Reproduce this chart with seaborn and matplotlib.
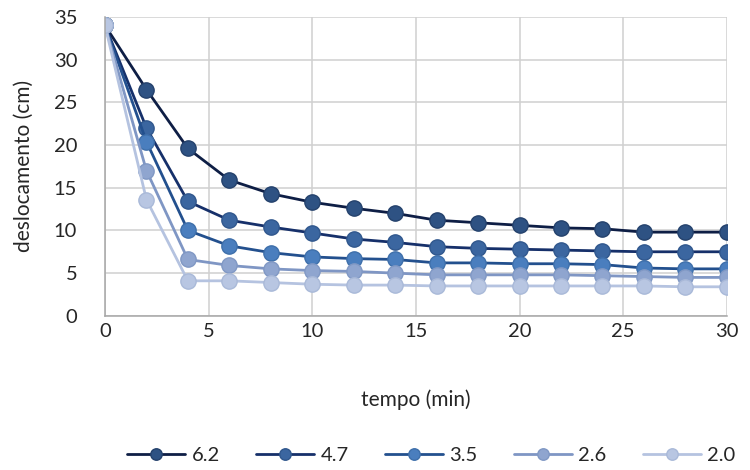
import matplotlib
matplotlib.use("Agg")
import matplotlib.pyplot as plt
import seaborn as sns
import pandas as pd

tempo = [0, 2, 4, 6, 8, 10, 12, 14, 16, 18, 20, 22, 24, 26, 28, 30]
s62 = [34.0, 26.5, 19.6, 15.9, 14.3, 13.3, 12.6, 12.0, 11.2, 10.9, 10.6, 10.3, 10.2, 9.8, 9.8, 9.8]
s47 = [34.0, 22.0, 13.4, 11.2, 10.4, 9.7, 9.0, 8.6, 8.1, 7.9, 7.8, 7.7, 7.6, 7.5, 7.5, 7.5]
s35 = [34.0, 20.4, 10.0, 8.2, 7.4, 6.9, 6.7, 6.6, 6.2, 6.2, 6.1, 6.1, 6.0, 5.6, 5.5, 5.5]
s26 = [34.0, 17.0, 6.6, 5.9, 5.5, 5.3, 5.2, 5.0, 4.8, 4.8, 4.8, 4.8, 4.7, 4.6, 4.5, 4.5]
s20 = [34.0, 13.6, 4.1, 4.1, 3.9, 3.7, 3.6, 3.6, 3.5, 3.5, 3.5, 3.5, 3.5, 3.5, 3.4, 3.4]
labels = ["6.2", "4.7", "3.5", "2.6", "2.0"]
series = [s62, s47, s35, s26, s20]

line_colors = ["#0E1E45", "#16306A", "#23508E", "#7F96C4", "#B5C3E0"]
face_colors = ["#2E5283", "#3B66A0", "#4A7EBE", "#8FA5CF", "#B8C6E2"]
edge_colors = ["#24416C", "#30578D", "#3E6FAA", "#8098C4", "#A9B9D8"]

sns.set_theme(style="white")
plt.rcParams["font.family"] = ["Lato", "DejaVu Sans"]

fig = plt.figure(figsize=(7.5, 4.7), dpi=100)
ax = fig.add_axes([0.14, 0.328, 0.829, 0.636])

for lab, vals, lc, fc, ec in zip(labels, series, line_colors, face_colors, edge_colors):
    df = pd.DataFrame({"tempo": tempo, "desl": vals})
    sns.lineplot(data=df, x="tempo", y="desl", ax=ax, color=lc, linewidth=2.0,
                 marker="o", markersize=11, markerfacecolor=fc, markeredgecolor=ec,
                 markeredgewidth=1.0, label=lab)

ax.set_xlim(0, 30)
ax.set_ylim(0, 35)
ax.set_xticks([0, 5, 10, 15, 20, 25, 30])
ax.set_yticks([0, 5, 10, 15, 20, 25, 30, 35])
ax.grid(True, color="#D0D0D0", linewidth=1.1)
ax.set_axisbelow(True)
for side in ["top", "right"]:
    ax.spines[side].set_visible(False)
for side in ["left", "bottom"]:
    ax.spines[side].set_color("#A6A6A6")
    ax.spines[side].set_linewidth(1.1)
ax.tick_params(axis="x", labelsize=14.5, colors="#262626", length=0, pad=5)
ax.tick_params(axis="y", labelsize=14.5, colors="#262626", length=0, pad=20)
ax.set_xlabel("tempo (min)", fontsize=15, color="#262626", labelpad=36)
ax.set_ylabel("deslocamento (cm)", fontsize=15, color="#262626", labelpad=14)
for lbl in ax.get_xticklabels() + ax.get_yticklabels():
    lbl.set_color("#262626")

ax.legend(loc="center", bbox_to_anchor=(0.575, 0.03),
          bbox_transform=fig.transFigure, ncol=5, frameon=False, fontsize=14.5,
          handlelength=2.9, columnspacing=1.8, handletextpad=0.3, markerscale=0.75,
          labelcolor="#262626")

fig.savefig("out.png", dpi=100)
